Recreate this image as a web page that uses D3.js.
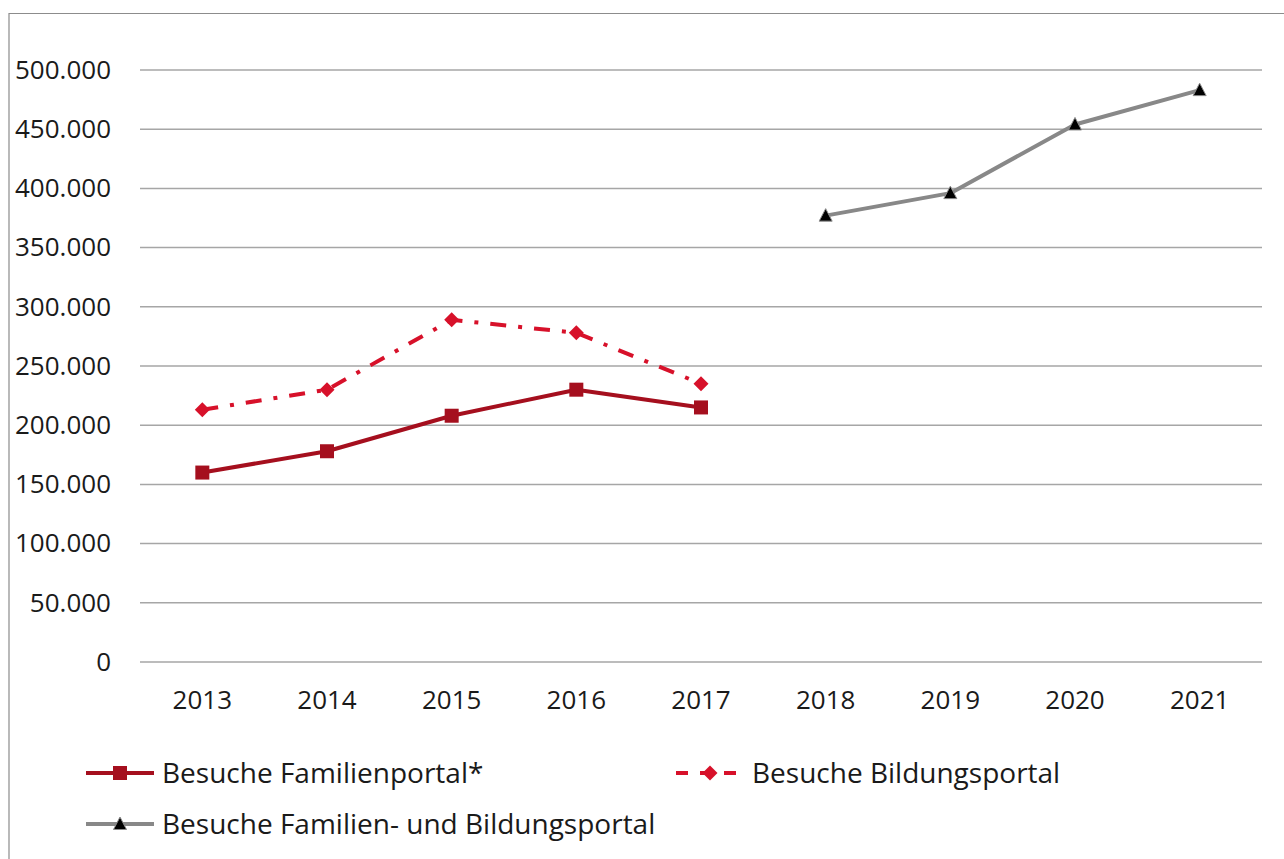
<!DOCTYPE html>
<html>
<head>
<meta charset="utf-8">
<script src="https://cdn.jsdelivr.net/npm/d3@7"></script>
<style>
  body { margin: 0; background: #fff; }
  svg { display: block; font-family: 'Open Sans', sans-serif; }
</style>
</head>
<body>
<svg id="chart" width="1284" height="859"></svg>
<script>
const years = ['2013', '2014', '2015', '2016', '2017', '2018', '2019', '2020', '2021'];
const familienportal = [160000, 178000, 208000, 230000, 215000, null, null, null, null];
const bildungsportal = [213000, 230000, 289000, 278000, 235000, null, null, null, null];
const beides = [null, null, null, null, null, 377000, 396000, 454000, 483000];
const yTicks = [0, 50000, 100000, 150000, 200000, 250000, 300000, 350000, 400000, 450000, 500000];

const series = [
  { name: 'Besuche Familienportal*', values: familienportal, color: '#a50f1e', dash: null, marker: 'square' },
  { name: 'Besuche Bildungsportal', values: bildungsportal, color: '#d7112a', dash: '16,12,4,12', marker: 'diamond' },
  { name: 'Besuche Familien- und Bildungsportal', values: beides, color: '#888888', dash: null, marker: 'triangle' }
];

const svg = d3.select('#chart');
const margin = { top: 70, right: 22, bottom: 197, left: 140 };
const width = 1284, height = 859;

// outer frame (top + left edge)
svg.append('path')
  .attr('d', `M9,${height} V13.5 H${width}`)
  .attr('fill', 'none')
  .attr('stroke', '#8c8c8c')
  .attr('stroke-width', 1.2);

const x = d3.scaleBand()
  .domain(years)
  .range([margin.left, width - margin.right]);

const y = d3.scaleLinear()
  .domain([0, 500000])
  .range([height - margin.bottom, margin.top]);

const fmt = d3.formatLocale({ decimal: ',', thousands: '.', grouping: [3], currency: ['', '€'] }).format(',');

// gridlines
svg.append('g')
  .selectAll('line')
  .data(yTicks)
  .join('line')
  .attr('x1', margin.left)
  .attr('x2', width - margin.right)
  .attr('y1', (d) => y(d))
  .attr('y2', (d) => y(d))
  .attr('stroke', '#a6a6a6')
  .attr('stroke-width', 1.5);

// y axis labels
const yAxis = svg.append('g')
  .attr('transform', `translate(${margin.left - 29},0)`)
  .call(d3.axisLeft(y).tickValues(yTicks).tickFormat(fmt).tickSize(0).tickPadding(0));
yAxis.select('.domain').remove();
yAxis.selectAll('text').attr('font-size', 26).attr('fill', '#1a1a1a').attr('font-family', "'Open Sans', sans-serif");

// x axis labels
const xAxis = svg.append('g')
  .attr('transform', `translate(0,${height - margin.bottom})`)
  .call(d3.axisBottom(x).tickSize(0).tickPadding(0));
xAxis.select('.domain').remove();
xAxis.selectAll('text')
  .attr('y', 38)
  .attr('dy', '0.35em')
  .attr('font-size', 26)
  .attr('fill', '#1a1a1a')
  .attr('font-family', "'Open Sans', sans-serif");

const cx = (i) => x(years[i]) + x.bandwidth() / 2;

const line = d3.line()
  .defined((d) => d != null)
  .x((d, i) => cx(i))
  .y((d) => y(d));

function drawMarker(g, type, color, px, py) {
  if (type === 'square') {
    g.append('rect')
      .attr('x', px - 7).attr('y', py - 7)
      .attr('width', 14).attr('height', 14)
      .attr('fill', color);
  } else if (type === 'diamond') {
    g.append('path')
      .attr('d', `M${px},${py - 7.5} L${px + 7.5},${py} L${px},${py + 7.5} L${px - 7.5},${py} Z`)
      .attr('fill', color);
  } else {
    g.append('path')
      .attr('d', `M${px},${py - 7} L${px + 6.5},${py + 5.5} L${px - 6.5},${py + 5.5} Z`)
      .attr('fill', '#000')
      .attr('stroke', '#8c8c8c')
      .attr('stroke-width', 1);
  }
}

series.forEach((s) => {
  const g = svg.append('g');
  g.append('path')
    .datum(s.values)
    .attr('d', line)
    .attr('fill', 'none')
    .attr('stroke', s.color)
    .attr('stroke-width', 4)
    .attr('stroke-linejoin', 'round')
    .attr('stroke-dasharray', s.dash);
  s.values.forEach((v, i) => {
    if (v != null) drawMarker(g, s.marker, s.color, cx(i), y(v));
  });
});

// legend
const legendPos = [
  { x: 86, y: 773 },
  { x: 676, y: 773 },
  { x: 86, y: 824 }
];
series.forEach((s, i) => {
  const p = legendPos[i];
  const g = svg.append('g');
  g.append('line')
    .attr('x1', p.x).attr('x2', p.x + 68)
    .attr('y1', p.y).attr('y2', p.y)
    .attr('stroke', s.color)
    .attr('stroke-width', 4)
    .attr('stroke-dasharray', s.dash ? '12,12' : null);
  drawMarker(g, s.marker, s.color, p.x + 34, p.y);
  g.append('text')
    .attr('x', p.x + 76)
    .attr('y', p.y)
    .attr('dy', '0.35em')
    .attr('font-size', 28)
    .attr('fill', '#1a1a1a')
    .text(s.name);
});
</script>
</body>
</html>
